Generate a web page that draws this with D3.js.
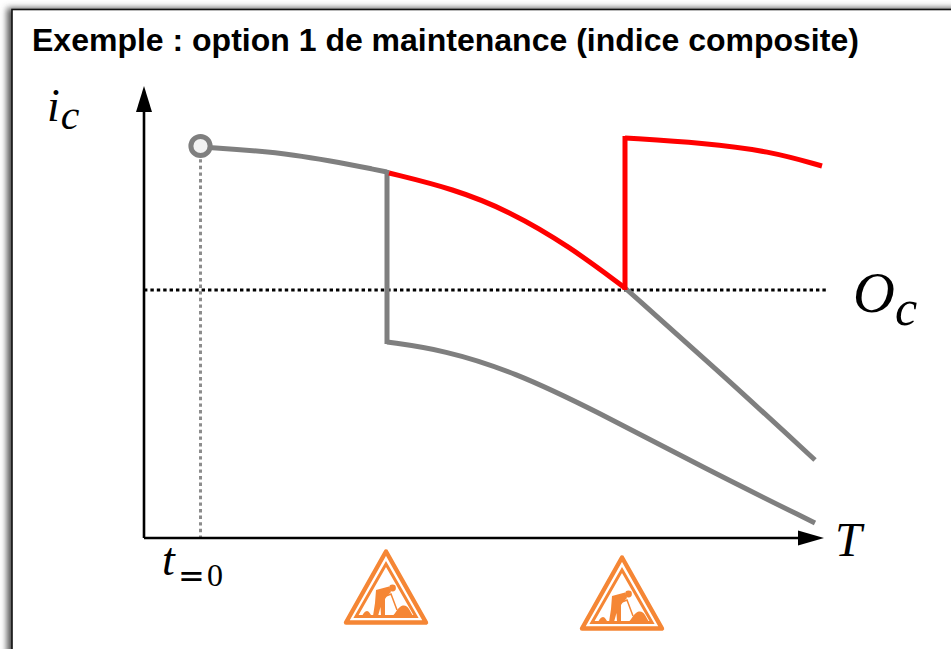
<!DOCTYPE html>
<html>
<head>
<meta charset="utf-8">
<script src="https://cdn.jsdelivr.net/npm/d3@7"></script>
<style>
  html, body { margin: 0; padding: 0; background: #fff; overflow: hidden; }
  svg { display: block; }
  text.math { font-family: "Liberation Serif", serif; font-style: italic; fill: #000; }
</style>
</head>
<body>
<div id="chart"></div>
<script>
const width = 951;
const height = 649;

// values in chart units (T to the right, i_c upward)
const startT = 56.5;
const startI = 392;
const thresholdOc = 248;
const axisMaxT = 680;
const axisMaxI = 452;
const workT = [242, 478];
const signDrop = [-11, -17];

const greyBefore = [[56.5, 391], [150, 385], [243, 366]];
const greyAfterFirst = [[243, 196], [300, 188], [370, 166], [450, 128], [560, 70], [671, 15]];
const greyNoSecond = [[481, 250], [580, 162], [671, 78]];
const redDecline = [[245, 365], [310, 349], [365, 327], [425, 292], [481, 250]];
const redAfterSecond = [[481, 400], [560, 395], [625, 387], [678, 372]];
const jumpFirst = [[243, 368], [243, 194]];
const jumpSecond = [[481, 248], [481, 402]];

const x = d3.scaleLinear().domain([0, axisMaxT]).range([144, 824]);
const y = d3.scaleLinear().domain([0, axisMaxI]).range([538, 86]);

const line = d3.line().x((d) => x(d[0])).y((d) => y(d[1]));
const curve = d3.line().x((d) => x(d[0])).y((d) => y(d[1])).curve(d3.curveBasis);

const svg = d3.select("#chart").append("svg").attr("width", width).attr("height", height);

const defs = svg.append("defs");
defs.append("filter").attr("id", "shadow").attr("x", "-5%").attr("y", "-5%").attr("width", "110%").attr("height", "110%")
  .append("feGaussianBlur").attr("stdDeviation", 3);
defs.append("filter").attr("id", "soft").attr("x", "-5%").attr("y", "-5%").attr("width", "110%").attr("height", "110%")
  .append("feGaussianBlur").attr("stdDeviation", 0.45);

// frame
svg.append("rect").attr("width", width).attr("height", height).attr("fill", "#fff");
svg.append("rect").attr("x", 7).attr("y", 8).attr("width", 970).attr("height", 680)
  .attr("fill", "#555").attr("filter", "url(#shadow)");
svg.append("rect").attr("x", 12).attr("y", 9.5).attr("width", 970).attr("height", 680)
  .attr("fill", "#fff").attr("stroke", "#111").attr("stroke-width", 1.6);

svg.append("text").attr("x", 32).attr("y", 51)
  .attr("font-family", "Liberation Sans").attr("font-weight", "bold").attr("font-size", 32)
  .attr("fill", "#000")
  .text("Exemple : option 1 de maintenance (indice composite)");

// threshold and start guide
svg.append("path").attr("d", line([[0, thresholdOc], [axisMaxT + 2, thresholdOc]]))
  .attr("stroke", "#000").attr("stroke-width", 3.2).attr("stroke-dasharray", "3.4 3")
  .attr("fill", "none");
svg.append("path").attr("d", line([[startT, startI], [startT, 0]]))
  .attr("stroke", "#8c8c8c").attr("stroke-width", 3).attr("stroke-dasharray", "3.4 3.2")
  .attr("fill", "none");

// axes
svg.append("path").attr("d", line([[0, 0], [0, axisMaxI - 10]])).attr("stroke", "#000").attr("stroke-width", 2.6).attr("fill", "none");
svg.append("path").attr("d", line([[0, 0], [axisMaxT - 10, 0]])).attr("stroke", "#000").attr("stroke-width", 2.6).attr("fill", "none");
svg.append("path")
  .attr("d", `M${x(0)},${y(axisMaxI)} l8,26 h-16 z`)
  .attr("fill", "#000");
svg.append("path")
  .attr("d", `M${x(axisMaxT)},${y(0)} l-26,-7.5 v15 z`)
  .attr("fill", "#000");

// curves
const grey = "#7f7f7f";
const red = "#ff0000";
[
  [greyBefore, curve, grey],
  [jumpFirst, line, grey],
  [greyAfterFirst, curve, grey],
  [greyNoSecond, curve, grey],
  [redDecline, curve, red],
  [jumpSecond, line, red],
  [redAfterSecond, curve, red],
].forEach(([points, gen, color]) => {
  svg.append("path").attr("d", gen(points))
    .attr("fill", "none").attr("stroke", color).attr("stroke-width", 5)
    .attr("stroke-linejoin", "miter");
});

svg.append("circle").attr("cx", x(startT)).attr("cy", y(startI)).attr("r", 9.6)
  .attr("fill", "#f2f2f2").attr("stroke", grey).attr("stroke-width", 5);

// math labels
const iLabel = svg.append("text").attr("class", "math").attr("x", 47).attr("y", 121).attr("font-size", 46);
iLabel.append("tspan").text("i");
iLabel.append("tspan").attr("font-size", 42).attr("dy", 8).attr("dx", 1).text("c");

const oLabel = svg.append("text").attr("class", "math").attr("x", 853).attr("y", 312).attr("font-size", 58);
oLabel.append("tspan").text("O");
oLabel.append("tspan").attr("font-size", 50).attr("dy", 13).text("c");

svg.append("text").attr("class", "math").attr("x", 835).attr("y", 556).attr("font-size", 48).text("T");

svg.append("text").attr("class", "math").attr("x", 162).attr("y", 575).attr("font-size", 46).text("t");
svg.append("text").attr("x", 178).attr("y", 587)
  .attr("font-family", "DejaVu Sans").attr("font-size", 32).attr("fill", "#000").text("=");
svg.append("text").attr("x", 207).attr("y", 586)
  .attr("font-family", "Liberation Serif").attr("font-size", 32).attr("fill", "#000").text("0");

// maintenance signs
const orange = "#f58634";
const signs = svg.selectAll("g.sign").data(workT).enter().append("g")
  .attr("class", "sign")
  .attr("filter", "url(#soft)")
  .attr("transform", (d, i) => `translate(${x(d)},${y(signDrop[i])})`);

signs.append("path").attr("d", "M0,2.5 L40,73.5 H-40 Z")
  .attr("fill", "none").attr("stroke", orange).attr("stroke-width", 4.4).attr("stroke-linejoin", "round");
signs.append("path").attr("d", "M0,15 L30,67.5 H-30 Z")
  .attr("fill", "none").attr("stroke", orange).attr("stroke-width", 3).attr("stroke-linejoin", "miter");
signs.append("circle").attr("cx", 6.5).attr("cy", 39).attr("r", 3.4).attr("fill", orange);
// worker body
signs.append("path")
  .attr("d", "M-10,41 L3,37.5 L5,43 L1,47 L-1,50 L-1,58 L-1,67 L-5,67 L-5.5,58 L-8,67 L-13,67 L-11,54 Z")
  .attr("fill", orange);
// shovel and mounds
signs.append("path").attr("d", "M0,47 L5,45 L11,61")
  .attr("stroke", orange).attr("stroke-width", 1.5).attr("fill", "none");
signs.append("path").attr("d", "M6,67 C9,66 10,61 14,58 C18,55 21,57 23,60 L27,67 Z").attr("fill", orange);
signs.append("path").attr("d", "M-24,67 C-23,65 -21,62 -19,62 C-17,62 -16,65 -14,67 Z").attr("fill", orange);
</script>
</body>
</html>
